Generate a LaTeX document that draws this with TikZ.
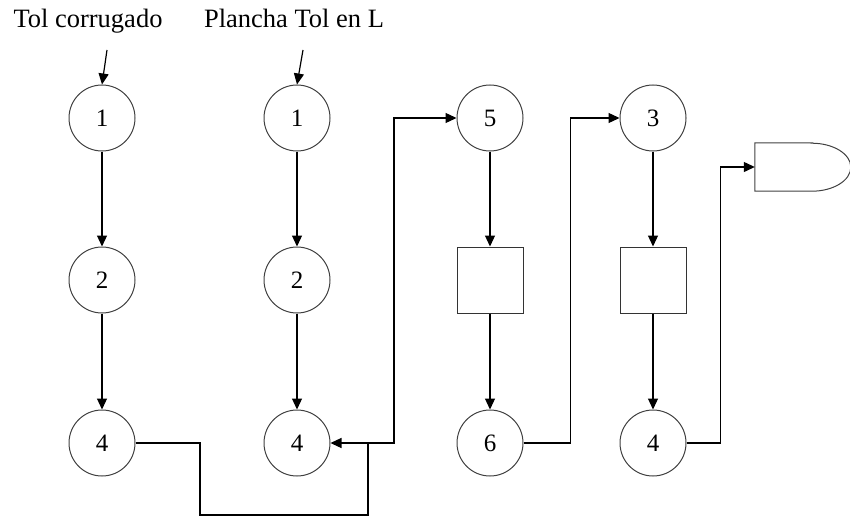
\documentclass[tikz,border=0pt]{standalone}
\usepackage{fontspec}
\setmainfont{Liberation Serif}
\usetikzlibrary{arrows.meta}
\begin{document}
\begin{tikzpicture}[x=1pt,y=-1pt,
  op/.style={circle,draw=black!75,line width=1pt,minimum size=66pt,inner sep=0pt,font=\fontsize{25}{29}\selectfont},
  insp/.style={rectangle,draw=black!80,line width=1pt,minimum size=66pt,inner sep=0pt},
  flow/.style={line width=1.2pt,-{Triangle[length=11pt,width=10pt]}},
  plain/.style={line width=1.2pt},
  lbl/.style={font=\fontsize{26.5}{31}\selectfont,inner sep=0pt,anchor=base}]
\useasboundingbox (0,0) rectangle (850,516);
% labels
\node[lbl] (la) at (88,28) {Tol corrugado};
\node[lbl] (lb) at (294,28) {Plancha Tol en L};
% column 1
\node[op] (a1) at (102,118) {1};
\node[op] (a2) at (102,280) {2};
\node[op] (a4) at (102,443) {4};
% column 2
\node[op] (b1) at (297,118) {1};
\node[op] (b2) at (297,280) {2};
\node[op] (b4) at (297,443) {4};
% column 3
\node[op] (c5) at (490,118) {5};
\node[insp] (s1) at (490,280) {};
\node[op] (c6) at (490,443) {6};
% column 4
\node[op] (d3) at (653,118) {3};
\node[insp] (s2) at (653,280) {};
\node[op] (d4) at (653,443) {4};
% storage
\node[minimum width=96pt,minimum height=48pt,inner sep=0pt] (st) at (803,167) {};
\draw[line width=1pt,draw=black!75] (st.north east) ++(-39pt,0) -- (st.north west) -- (st.south west) -- ++(57pt,0)
  arc[start angle=-90,end angle=90,x radius=39pt,y radius=24pt] -- cycle;
% inputs
\coordinate (ia) at (107,50);
\coordinate (ib) at (303,50);
\draw[flow] (ia) -- (a1.north);
\draw[flow] (ib) -- (b1.north);
% vertical flows
\draw[flow] (a1) -- (a2);
\draw[flow] (a2) -- (a4);
\draw[flow] (b1) -- (b2);
\draw[flow] (b2) -- (b4);
\draw[flow] (c5) -- (s1);
\draw[flow] (s1) -- (c6);
\draw[flow] (d3) -- (s2);
\draw[flow] (s2) -- (d4);
% connectors
\coordinate (j1) at (200,515);
\coordinate (j2) at (368,515);
\coordinate (j3) at (368,443);
\coordinate (j4) at (394,443);
\draw[flow] (a4.east) -| (j1) -- (j2) |- (b4.east);
\draw[flow] (j3) -- (j4) |- (c5.west);
\draw[flow] (c6.east) -- ++(47,0) |- (d3.west);
\draw[flow] (d4.east) -- ++(34,0) |- (st.west);
\end{tikzpicture}
\end{document}
